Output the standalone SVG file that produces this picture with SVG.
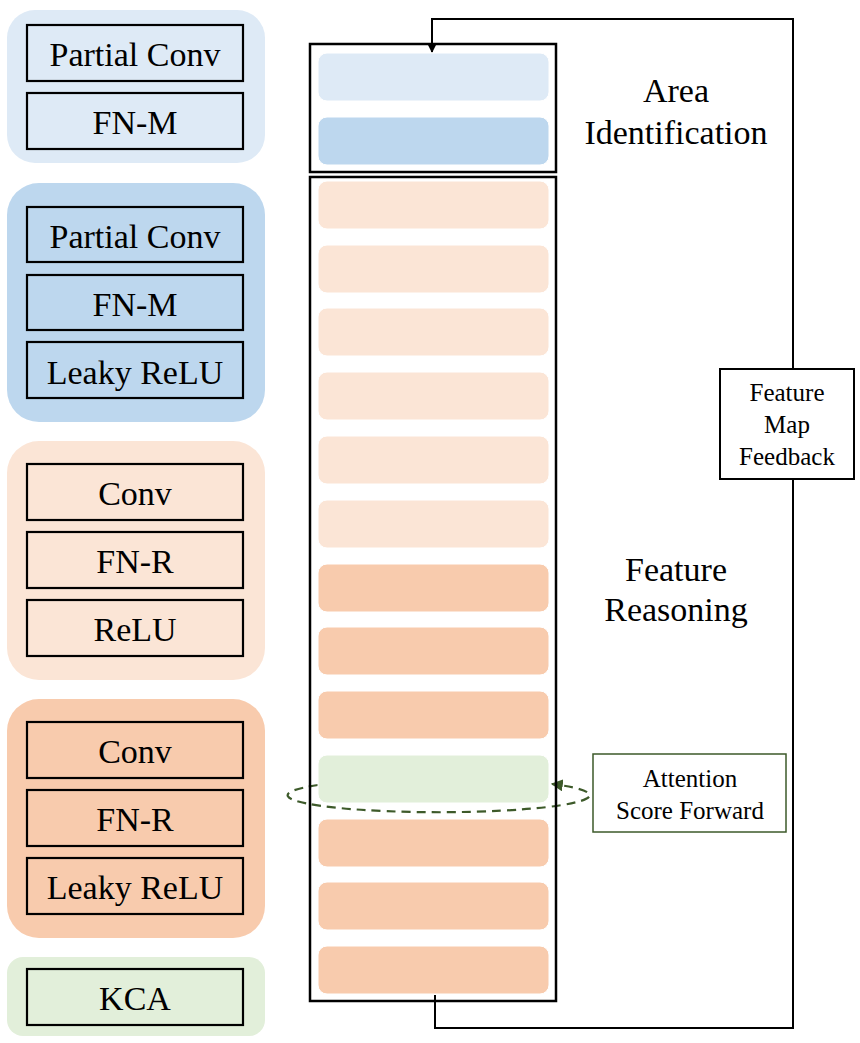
<svg xmlns="http://www.w3.org/2000/svg" width="860" height="1043" viewBox="0 0 860 1043">
<style>
.grp{stroke:none}
.box{stroke:#000;stroke-width:2.2}
.t{font-family:"Liberation Serif","Times New Roman",serif;fill:#000;text-anchor:middle}
.big{font-size:34px}
.sm{font-size:25px}
.bar{stroke:#ffffff;stroke-width:1}
.lb{fill:#deeaf6}.b{fill:#bdd7ee}.lp{fill:#fbe5d6}.p{fill:#f8cbad}.g{fill:#e2efda}
.frame{fill:none;stroke:#000;stroke-width:2.5}
</style>
<defs>
<marker id="ah" viewBox="0 0 10 10" refX="9" refY="5" markerWidth="10" markerHeight="10" markerUnits="userSpaceOnUse" orient="auto">
<path d="M0,0 L10,5 L0,10 z" fill="#000"/>
</marker>
<marker id="ahg" viewBox="0 0 10 10" refX="9" refY="5" markerWidth="12" markerHeight="12" markerUnits="userSpaceOnUse" orient="auto">
<path d="M0,0 L10,5 L0,10 z" fill="#3d5a2a"/>
</marker>
</defs>
<rect width="860" height="1043" fill="#fff"/>

<!-- Legend groups -->
<g id="legend-am1">
<rect class="grp lb" x="7" y="10" width="258" height="153" rx="28"/>
<rect class="box lb" x="27" y="25" width="216" height="56"/>
<text class="t big" x="135" y="66">Partial Conv</text>
<rect class="box lb" x="27" y="93" width="216" height="56"/>
<text class="t big" x="135" y="134">FN-M</text>
</g>
<g id="legend-am2">
<rect class="grp b" x="7" y="183" width="258" height="239" rx="32"/>
<rect class="box b" x="27" y="207" width="216" height="55"/>
<text class="t big" x="135" y="248">Partial Conv</text>
<rect class="box b" x="27" y="275" width="216" height="55"/>
<text class="t big" x="135" y="316">FN-M</text>
<rect class="box b" x="27" y="342" width="216" height="56"/>
<text class="t big" x="135" y="384">Leaky ReLU</text>
</g>
<g id="legend-fr1">
<rect class="grp lp" x="7" y="441" width="258" height="239" rx="32"/>
<rect class="box lp" x="27" y="464" width="216" height="56"/>
<text class="t big" x="135" y="505">Conv</text>
<rect class="box lp" x="27" y="532" width="216" height="56"/>
<text class="t big" x="135" y="573">FN-R</text>
<rect class="box lp" x="27" y="600" width="216" height="56"/>
<text class="t big" x="135" y="641">ReLU</text>
</g>
<g id="legend-fr2">
<rect class="grp p" x="7" y="699" width="258" height="239" rx="32"/>
<rect class="box p" x="27" y="722" width="216" height="56"/>
<text class="t big" x="135" y="763">Conv</text>
<rect class="box p" x="27" y="790" width="216" height="56"/>
<text class="t big" x="135" y="831">FN-R</text>
<rect class="box p" x="27" y="858" width="216" height="56"/>
<text class="t big" x="135" y="899">Leaky ReLU</text>
</g>
<g id="legend-kca">
<rect class="grp g" x="7" y="957" width="258" height="79" rx="16"/>
<rect class="box g" x="27" y="969" width="216" height="56"/>
<text class="t big" x="135" y="1010">KCA</text>
</g>

<!-- Connectors -->
<g id="connectors">
<path d="M435,995 V1028 H793 V19 H432 V52" fill="none" stroke="#000" stroke-width="2" marker-end="url(#ah)"/>
<path d="M318,785 A151,17 0 1 0 552,784" fill="none" stroke="#3d5a2a" stroke-width="2.2" stroke-dasharray="9,6" marker-end="url(#ahg)"/>
</g>

<!-- Area Identification -->
<g id="area-identification">
<rect class="frame" x="310" y="44" width="246" height="128"/>
<rect class="bar lb" x="318" y="53" width="231" height="48" rx="9"/>
<rect class="bar b" x="318" y="117" width="231" height="48" rx="9"/>
<text class="t big" x="676" y="102">Area</text>
<text class="t big" x="676" y="144">Identification</text>
</g>

<!-- Feature Reasoning -->
<g id="feature-reasoning">
<rect class="frame" x="310" y="177" width="246" height="824"/>
<rect class="bar lp" x="318" y="181" width="231" height="48" rx="9"/>
<rect class="bar lp" x="318" y="245" width="231" height="48" rx="9"/>
<rect class="bar lp" x="318" y="308" width="231" height="48" rx="9"/>
<rect class="bar lp" x="318" y="372" width="231" height="48" rx="9"/>
<rect class="bar lp" x="318" y="436" width="231" height="48" rx="9"/>
<rect class="bar lp" x="318" y="500" width="231" height="48" rx="9"/>
<rect class="bar p" x="318" y="564" width="231" height="48" rx="9"/>
<rect class="bar p" x="318" y="627" width="231" height="48" rx="9"/>
<rect class="bar p" x="318" y="691" width="231" height="48" rx="9"/>
<rect class="bar g" x="318" y="755" width="231" height="48" rx="9"/>
<rect class="bar p" x="318" y="819" width="231" height="48" rx="9"/>
<rect class="bar p" x="318" y="882" width="231" height="48" rx="9"/>
<rect class="bar p" x="318" y="946" width="231" height="48" rx="9"/>
<text class="t big" x="676" y="581">Feature</text>
<text class="t big" x="676" y="621">Reasoning</text>
</g>

<!-- Feature Map Feedback -->
<g id="feature-map-feedback">
<rect x="720" y="369" width="134" height="110" fill="#fff" stroke="#000" stroke-width="2"/>
<text class="t sm" x="787" y="401">Feature</text>
<text class="t sm" x="787" y="433">Map</text>
<text class="t sm" x="787" y="465">Feedback</text>
</g>

<!-- Attention Score Forward -->
<g id="attention-score-forward">
<rect x="593" y="754" width="193" height="78" fill="#fff" stroke="#3d5a2a" stroke-width="1.5"/>
<text class="t sm" x="690" y="787">Attention</text>
<text class="t sm" x="690" y="819">Score Forward</text>
</g>
</svg>
